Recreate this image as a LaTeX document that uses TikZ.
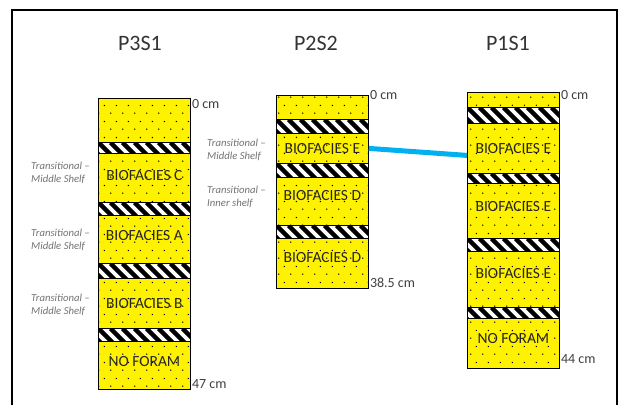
\documentclass[tikz,border=0pt]{standalone}
\usepackage{fontspec}
\setmainfont{Carlito}
\usetikzlibrary{patterns, calc}

\pgfdeclarepatternformonly{sanddots}{\pgfpointorigin}{\pgfqpoint{12pt}{16pt}}{\pgfqpoint{12pt}{16pt}}{%
  \pgfpathcircle{\pgfqpoint{3pt}{4pt}}{0.8pt}%
  \pgfpathcircle{\pgfqpoint{9pt}{12pt}}{0.8pt}%
  \pgfusepath{fill}}

\definecolor{seamblue}{RGB}{0,176,240}
\tikzset{
  sand/.style={draw, line width=0.8pt, preaction={fill=yellow}, pattern=sanddots,
    minimum width=92pt, inner sep=0pt, anchor=north west, text=black!85,
    font=\fontsize{15.5}{17}\selectfont},
  hatch/.style={draw, line width=1.2pt, fill=white, minimum width=92pt, inner sep=0pt,
    anchor=north west,
    path picture={\foreach \k in {-2,...,8}
      \draw[line width=4.5pt] ([xshift=\k*12pt]path picture bounding box.north west) -- ++(18pt,-18pt);}},
  zone/.style={anchor=west, align=left, text=black!55, inner sep=0pt,
    font=\fontsize{10.7}{13}\selectfont\itshape},
  depth/.style={text=black!75, inner sep=1pt, font=\fontsize{14}{16}\selectfont},
  title/.style={text=black!80, font=\fontsize{22}{25}\selectfont},
}

\begin{document}
\begin{tikzpicture}[x=1pt, y=-1pt]
  \useasboundingbox (0,0) rectangle (619,405);
  \draw[line width=1.3pt] (12,405) -- (12,10) -- (617,10) -- (617,405);

  % titles
  \node[title] (t3) at (140,43) {P3S1};
  \node[title] (t2) at (316,43) {P2S2};
  \node[title] (t1) at (508,43) {P1S1};

  % P3S1
  \node[sand, minimum height=44pt] (a0) at (98,98) {};
  \node[hatch, minimum height=11pt] (a1) at (98,142) {};
  \node[sand, minimum height=49pt, text depth=4pt] (a2) at (98,153) {BIOFACIES C};
  \node[hatch, minimum height=13pt] (a3) at (98,202) {};
  \node[sand, minimum height=48pt, text depth=8pt] (a4) at (98,215) {BIOFACIES A};
  \node[hatch, minimum height=15pt] (a5) at (98,263) {};
  \node[sand, minimum height=50pt] (a6) at (98,278) {BIOFACIES B};
  \node[hatch, minimum height=13pt] (a7) at (98,328) {};
  \node[sand, minimum height=48pt, text depth=8pt] (a8) at (98,341) {NO FORAM};

  % P2S2
  \node[sand, minimum height=24pt] (b0) at (276,95) {};
  \node[hatch, minimum height=14pt] (b1) at (276,119) {};
  \node[sand, minimum height=30pt] (b2) at (276,133) {BIOFACIES E};
  \node[hatch, minimum height=14pt] (b3) at (276,163) {};
  \node[sand, minimum height=48pt, text depth=12pt] (b4) at (276,177) {BIOFACIES D};
  \node[hatch, minimum height=13pt] (b5) at (276,225) {};
  \node[sand, minimum height=50pt, text depth=12pt] (b6) at (276,238) {BIOFACIES D};

  % P1S1
  \node[sand, minimum height=15pt] (c0) at (467,92) {};
  \node[hatch, minimum height=16pt] (c1) at (467,107) {};
  \node[sand, minimum height=50pt] (c2) at (467,123) {BIOFACIES E};
  \node[hatch, minimum height=10pt] (c3) at (467,173) {};
  \node[sand, minimum height=55pt, text depth=8pt] (c4) at (467,183) {BIOFACIES E};
  \node[hatch, minimum height=13pt] (c5) at (467,238) {};
  \node[sand, minimum height=56pt, text depth=12pt] (c6) at (467,251) {BIOFACIES E};
  \node[hatch, minimum height=11pt] (c7) at (467,307) {};
  \node[sand, minimum height=50pt, text depth=10pt] (c8) at (467,318) {NO FORAM};

  % environment notes
  \node[zone] (z3c) at (31,173) {Transitional –\\Middle Shelf};
  \node[zone] (z3a) at (31,240) {Transitional –\\Middle Shelf};
  \node[zone] (z3b) at (31,305) {Transitional –\\Middle Shelf};
  \node[zone] (z2e) at (207,150) {Transitional –\\Middle Shelf};
  \node[zone] (z2d) at (207,197) {Transitional –\\Inner shelf};

  % depths
  \node[depth, anchor=north west] (d3a) at (a0.north east) {0 cm};
  \node[depth, anchor=south west] (d3b) at (a8.south east) {47 cm};
  \node[depth, anchor=west] (d2a) at (b0.north east) {0 cm};
  \node[depth, anchor=south west] (d2b) at (b6.south east) {38.5 cm};
  \node[depth, anchor=west] (d1a) at ([yshift=-3pt]c0.north east) {0 cm};
  \node[depth, anchor=south west] (d1b) at ([yshift=4pt]c8.south east) {44 cm};

  % correlation
  \draw[seamblue, line width=5pt] (b2.east) -- ([yshift=-7pt]c2.west);
\end{tikzpicture}
\end{document}
